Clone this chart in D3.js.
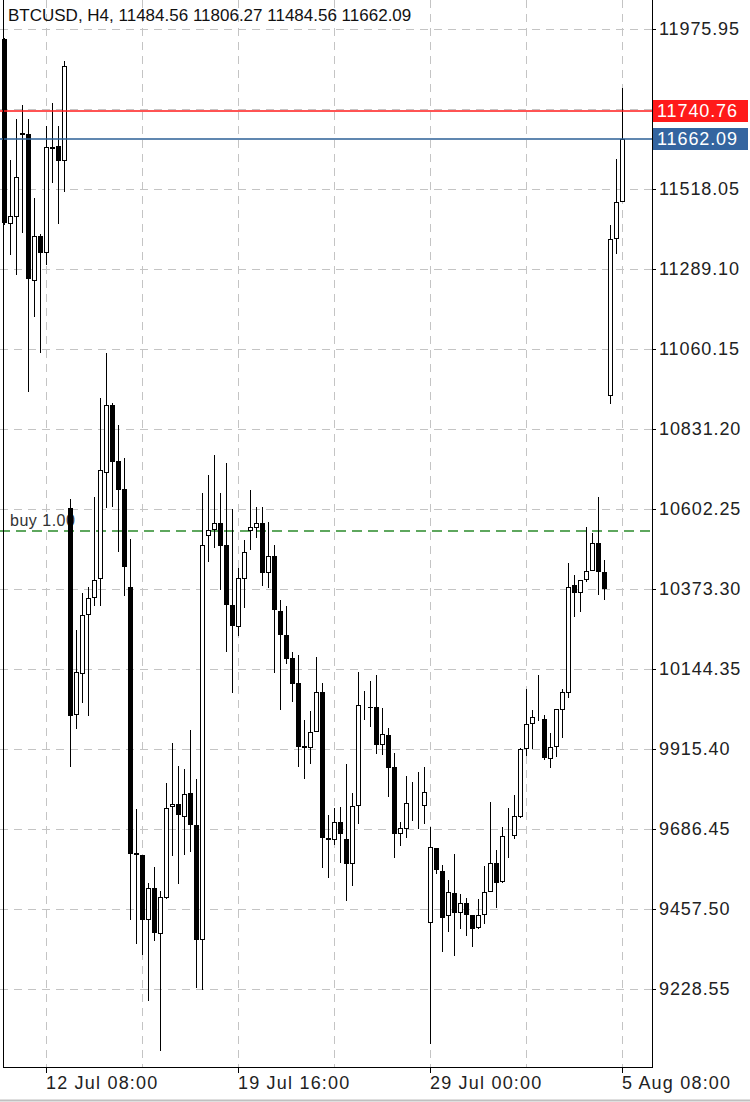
<!DOCTYPE html>
<html><head><meta charset="utf-8">
<script src="https://cdn.jsdelivr.net/npm/d3@7"></script>
<style>body{margin:0;background:#fff}svg{display:block}text{font-family:"Liberation Sans",Arial,Helvetica,sans-serif}</style>
</head><body><svg id="c" width="750" height="1102"></svg>
<script>
const opens = [11947.33,11420.74,11440.77,11675.45,11675.45,11257.61,11383.54,11337.75,11638.24,11641.11,
11601.04,10605.11,10015.56,10132.90,10301.75,10350.40,10404.78,10708.13,10899.88,10739.62,
10659.48,10379.02,9617.76,9612.04,9428.88,9517.59,9388.81,9491.84,9752.27,9757.99,
9723.65,9789.47,9697.89,9371.64,10527.84,10545.01,10562.18,10499.22,10327.51,10267.41,
10404.78,10542.15,10550.73,10562.18,10420.95,10467.74,10310.33,10241.65,10175.83,10104.28,
9923.98,9921.12,9966.91,10078.52,9660.69,9657.83,9706.48,9657.83,9589.14,9755.13,
10038.46,10035.59,10035.59,9929.71,9955.46,9863.88,9675.00,9689.31,9757.99,9755.13,
9755.13,9420.29,9632.07,9566.25,9440.32,9503.29,9448.91,9474.67,9440.32,9405.98,
9443.19,9509.01,9589.14,9537.63,9669.27,9669.27,9723.65,9918.26,9989.80,10004.11,
10001.25,9889.64,9923.98,10029.87,10078.52,10384.74,10364.71,10401.91,10427.67,10504.94,
10420.95,10928.50,11377.81,11484.56];
const highs = [11950.19,11601.04,11718.38,11758.44,11718.38,11492.29,11389.26,11698.34,11764.17,11698.34,
11884.37,10630.86,10255.96,10361.85,10379.02,10636.59,10919.91,11048.70,10905.60,10842.64,
10748.20,10516.39,9743.68,9613.00,9531.90,9577.69,9509.01,9818.09,9932.57,9866.74,
9858.16,9969.77,9829.54,10648.04,10699.55,10756.79,10648.04,10733.89,10602.25,10433.39,
10513.53,10656.62,10607.97,10607.97,10565.04,10499.22,10341.81,10324.64,10193.00,10184.41,
9998.39,10024.15,10178.69,10104.28,9726.51,9746.54,9749.41,9872.47,9789.47,10135.76,
10081.38,10110.00,10127.17,10032.73,9975.50,9903.95,9706.48,9838.12,9820.95,9849.57,
9863.88,9692.17,9633.00,9583.42,9540.49,9614.90,9500.42,9488.98,9441.00,9486.11,
9580.56,9763.72,9626.35,9692.17,9746.54,9783.75,9918.26,10087.11,10027.01,10127.17,
10012.70,9961.19,10029.87,10087.11,10447.70,10413.36,10400.00,10550.73,10533.56,10636.59,
10456.29,11415.02,11603.90,11806.27];
const lows = [11417.88,11332.02,11274.79,11394.99,10939.95,11154.59,11051.56,11303.40,11538.08,11420.74,
11512.32,9866.74,9975.50,10049.90,10012.70,10327.51,10327.51,10607.97,10610.83,10482.05,
10356.12,9428.88,9360.19,9328.71,9197.06,9368.78,9053.97,9490.00,9612.04,9531.90,
9614.90,9623.48,9234.27,9228.55,10453.43,10493.49,10373.30,10195.86,10078.52,10241.65,
10321.78,10487.77,10522.11,10384.74,10379.02,10135.76,10029.87,10161.52,10052.77,9866.74,
9832.40,9875.33,9966.00,9577.69,9549.08,9643.52,9592.00,9483.25,9526.18,9703.62,
10001.25,9981.22,9903.95,9901.09,9780.89,9606.31,9640.66,9663.55,9712.20,9689.31,
9703.62,9074.00,9560.52,9337.30,9394.53,9325.85,9403.12,9383.09,9351.61,9404.00,
9417.43,9508.00,9463.22,9534.77,9606.31,9660.69,9720.79,9898.22,9918.26,9998.39,
9886.78,9863.88,9895.36,9949.74,10064.21,10296.02,10310.33,10396.19,10427.00,10358.99,
10344.68,10905.60,11334.89,11484.56];
const closes = [11423.60,11440.77,11552.39,11678.31,11263.34,11383.54,11337.75,11638.24,11636.80,11601.04,
11870.06,10012.70,10135.76,10298.89,10347.54,10399.05,10713.86,10899.88,10739.62,10659.48,
10439.12,9617.76,9614.90,9428.88,9517.59,9391.67,9491.84,9746.54,9757.99,9729.37,
9786.61,9700.76,9371.64,10499.22,10542.15,10562.18,10499.22,10330.37,10270.27,10404.78,
10479.18,10550.73,10562.18,10420.95,10467.74,10316.06,10244.51,10175.83,10104.28,9923.98,
9921.12,9964.05,10078.52,9663.55,9657.83,9706.48,9675.00,9589.14,9752.27,10041.32,
10039.20,10035.00,9929.71,9958.32,9863.88,9675.00,9689.31,9760.85,9758.50,9755.60,
9792.33,9634.93,9571.97,9434.60,9506.15,9448.91,9474.67,9443.19,9403.12,9440.32,
9506.15,9589.14,9534.77,9666.41,9669.50,9723.65,9915.40,9986.96,10006.98,10004.50,
9892.50,9921.12,10029.87,10078.52,10379.02,10364.71,10399.05,10424.81,10504.94,10424.81,
10376.16,11374.95,11480.84,11662.09];
const xTickIndex = [7,39,71,103];
const xTickLabels = ["12 Jul 08:00","19 Jul 16:00","29 Jul 00:00","5 Aug 08:00"];
const gridIndex = [7,23,39,55,71,87,103];
const yTicks = [11975.95,11747.00,11518.05,11289.10,11060.15,10831.20,10602.25,10373.30,10144.35,9915.40,9686.45,9457.50,9228.55];
const askPrice = 11740.76, bidPrice = 11662.09, buyPrice = 10539.30;
const title = "BTCUSD, H4, 11484.56 11806.27 11484.56 11662.09";
const buyLabel = "buy 1.00";

const W=750,H=1102, plotR=652, plotB=1067;
const svg=d3.select("#c");
svg.append("rect").attr("width",W).attr("height",H).attr("fill","#fff");
const x=d3.scaleLinear().domain([0,103]).range([4.3,622.3]);
const y=d3.scaleLinear().domain([9228.55,11975.95]).range([989,29]);
const cx=i=>Math.round(x(i));
const py=v=>Math.round(y(v));

svg.append("clipPath").attr("id","pc").append("rect").attr("x",0).attr("y",0).attr("width",plotR).attr("height",plotB);
const g=svg.append("g").attr("clip-path","url(#pc)");

// grid
g.selectAll(".hg").data(yTicks).enter().append("line")
 .attr("x1",0).attr("x2",plotR).attr("y1",d=>py(d)+0.5).attr("y2",d=>py(d)+0.5)
 .attr("stroke","#c4c4c4").attr("stroke-dasharray","8,6");
g.selectAll(".vg").data(gridIndex).enter().append("line")
 .attr("y1",0).attr("y2",plotB).attr("x1",d=>cx(d)+0.5).attr("x2",d=>cx(d)+0.5)
 .attr("stroke","#c4c4c4").attr("stroke-dasharray","8,6");

// buy line
g.append("line").attr("x1",0).attr("x2",plotR).attr("y1",py(buyPrice)).attr("y2",py(buyPrice))
 .attr("stroke","#2a8a2a").attr("stroke-width",1.4).attr("stroke-dasharray","10,6");
g.append("text").attr("x",10).attr("y",py(buyPrice)-5).attr("font-size",16).attr("letter-spacing",0.5).attr("fill","#333").text(buyLabel);

// candles
const idx=d3.range(opens.length);
g.selectAll(".wick").data(idx).enter().append("line")
 .attr("x1",i=>cx(i)+0.5).attr("x2",i=>cx(i)+0.5)
 .attr("y1",i=>py(highs[i])).attr("y2",i=>py(lows[i])+1)
 .attr("stroke","#000").attr("stroke-width",1);
g.selectAll(".body").data(idx).enter().append("rect")
 .each(function(i){
   const bull=closes[i]>=opens[i];
   const t=py(Math.max(opens[i],closes[i])), b=py(Math.min(opens[i],closes[i]));
   const s=d3.select(this);
   if(bull){
     s.attr("x",cx(i)-1.5).attr("width",4).attr("y",t+0.5).attr("height",Math.max(0,b-t))
      .attr("fill","#fff").attr("stroke","#000").attr("stroke-width",1);
   } else {
     s.attr("x",cx(i)-2).attr("width",5).attr("y",t).attr("height",Math.max(1,b-t+1)).attr("fill","#000");
   }
 });

// ask / bid lines
g.append("line").attr("x1",0).attr("x2",plotR).attr("y1",py(askPrice)).attr("y2",py(askPrice)).attr("stroke","#ff1a1a").attr("stroke-width",1.5);
g.append("line").attr("x1",0).attr("x2",plotR).attr("y1",py(bidPrice)).attr("y2",py(bidPrice)).attr("stroke","#2b5f96").attr("stroke-width",1.5);

// frame
svg.append("line").attr("x1",plotR+0.5).attr("x2",plotR+0.5).attr("y1",0).attr("y2",plotB+1).attr("stroke","#000");
svg.append("line").attr("x1",3).attr("x2",plotR+1).attr("y1",plotB+0.5).attr("y2",plotB+0.5).attr("stroke","#000");
svg.append("line").attr("x1",3.5).attr("x2",3.5).attr("y1",0).attr("y2",plotB+1).attr("stroke","#000");

// y axis
const lab=svg.append("g");
yTicks.forEach(t=>{
  const yy=py(t);
  lab.append("line").attr("x1",plotR).attr("x2",plotR+4).attr("y1",yy+0.5).attr("y2",yy+0.5).attr("stroke","#000");
  if(Math.abs(yy-py(askPrice))<18||Math.abs(yy-py(bidPrice))<18) return;
  lab.append("text").attr("x",659).attr("y",yy+6).attr("font-size",18).attr("letter-spacing",0.9).attr("fill","#222").text(d3.format(".2f")(t));
});
[[askPrice,"#ff1a1a"],[bidPrice,"#3465a0"]].forEach(([p,c])=>{
  const yy=py(p);
  lab.append("rect").attr("x",653).attr("y",yy-11).attr("width",95).attr("height",22).attr("fill",c);
  lab.append("text").attr("x",657).attr("y",yy+6).attr("font-size",18).attr("letter-spacing",0.9).attr("fill","#fff").text(d3.format(".2f")(p));
});

// x axis
xTickIndex.forEach((i,k)=>{
  const xx=cx(i);
  lab.append("line").attr("x1",xx+0.5).attr("x2",xx+0.5).attr("y1",plotB).attr("y2",plotB+6).attr("stroke","#000");
  lab.append("text").attr("x",xx).attr("y",1089).attr("font-size",18).attr("letter-spacing",1.2).attr("fill","#222").text(xTickLabels[k]);
});
svg.append("line").attr("x1",0).attr("x2",W).attr("y1",1100.5).attr("y2",1100.5).attr("stroke","#c0c0c0").attr("stroke-width",2);

// title
svg.append("text").attr("x",8).attr("y",21).attr("font-size",17).attr("fill","#111").text(title);
</script></body></html>
